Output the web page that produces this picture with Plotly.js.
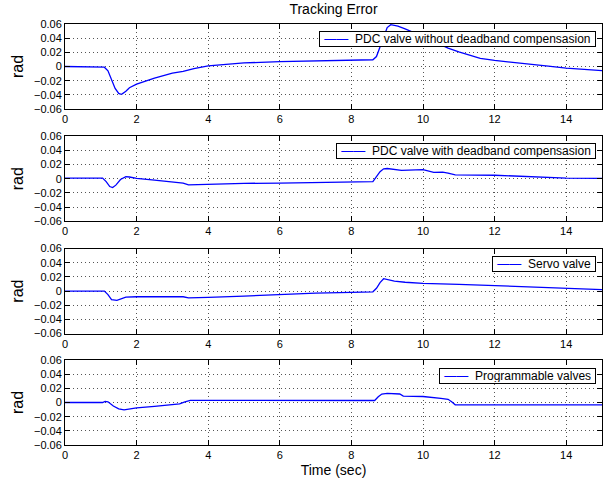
<!DOCTYPE html>
<html>
<head>
<meta charset="utf-8">
<script src="https://cdn.plot.ly/plotly-3.0.1.min.js"></script>
<style>html,body{margin:0;padding:0;background:#fff;}#chart{width:606px;height:486px;}</style>
</head>
<body>
<div id="chart"></div>
<script>
// Series names
const names = [
  'PDC valve without deadband compensasion',
  'PDC valve with deadband compensasion',
  'Servo valve',
  'Programmable valves'
];

// Series 1: PDC valve without deadband compensation
const t1 = [0, 1.0, 1.1, 1.2, 1.3, 1.4, 1.5, 1.55, 1.6, 1.7, 1.8, 2.0, 2.5, 3.0, 3.3, 3.6, 4.0, 4.5, 5.0, 6.0, 7.0, 8.0, 8.6, 8.7, 8.8, 8.9, 9.0, 9.1, 9.2, 9.3, 9.5, 9.8, 10.1, 10.4, 10.7, 11.0, 11.3, 11.6, 12.0, 12.5, 13.0, 13.5, 14.0, 14.5, 15.0];
const y1 = [0, 0, -0.001, -0.006, -0.018, -0.031, -0.038, -0.039, -0.0385, -0.035, -0.030, -0.025, -0.0165, -0.0095, -0.007, -0.003, 0.001, 0.0035, 0.005, 0.007, 0.008, 0.0092, 0.0095, 0.014, 0.028, 0.044, 0.055, 0.059, 0.0585, 0.057, 0.053, 0.047, 0.040, 0.033, 0.026, 0.0205, 0.0155, 0.0115, 0.0085, 0.0055, 0.0025, 0.0005, -0.0022, -0.004, -0.0057];

// Series 2: PDC valve with deadband compensation
const t2 = [0, 1.05, 1.15, 1.25, 1.33, 1.42, 1.55, 1.7, 1.8, 2.0, 2.5, 3.0, 3.3, 3.45, 4.0, 5.0, 6.0, 7.0, 8.0, 8.6, 8.7, 8.8, 8.9, 9.0, 9.4, 9.8, 10.0, 10.3, 10.55, 10.7, 10.9, 12.0, 13.0, 14.0, 15.0];
const y2 = [0.001, 0.001, -0.004, -0.011, -0.0125, -0.009, -0.001, 0.003, 0.0025, 0.0005, -0.002, -0.004, -0.006, -0.0085, -0.0075, -0.0065, -0.006, -0.0055, -0.005, -0.004, 0.003, 0.010, 0.014, 0.0145, 0.012, 0.012, 0.013, 0.009, 0.0095, 0.008, 0.0055, 0.005, 0.003, 0.001, 0.0005];

// Series 3: Servo valve
const t3 = [0, 1.1, 1.2, 1.3, 1.45, 1.55, 1.7, 2.0, 3.0, 3.3, 3.45, 4.0, 5.0, 6.0, 7.0, 8.0, 8.6, 8.7, 8.8, 8.9, 9.0, 9.2, 9.5, 10.0, 11.0, 12.0, 13.0, 14.0, 15.0];
const y3 = [0, 0, -0.005, -0.012, -0.013, -0.011, -0.0085, -0.008, -0.008, -0.008, -0.0095, -0.009, -0.007, -0.0045, -0.003, -0.0018, -0.001, 0.004, 0.012, 0.0175, 0.0165, 0.014, 0.0125, 0.011, 0.0095, 0.0075, 0.0055, 0.0035, 0.0022];

// Series 4: Programmable valves
const t4 = [0, 1.05, 1.12, 1.2, 1.35, 1.5, 1.65, 2.0, 2.5, 3.0, 3.2, 3.35, 3.5, 4.0, 6.0, 8.0, 8.65, 8.75, 8.85, 9.0, 9.2, 9.35, 9.45, 10.0, 10.5, 10.7, 10.8, 10.9, 12.0, 13.0, 15.0];
const y4 = [0, 0, 0.0015, 0.001, -0.005, -0.009, -0.0105, -0.0075, -0.0055, -0.0035, -0.002, 0.001, 0.003, 0.003, 0.003, 0.0028, 0.0028, 0.008, 0.012, 0.013, 0.013, 0.012, 0.009, 0.0085, 0.0058, 0.0045, 0.001, -0.0033, -0.0033, -0.0033, -0.0033];

const ts = [t1, t2, t3, t4];
const ys = [y1, y2, y3, y4];

const FONT = 'Liberation Sans, Arial, Helvetica, sans-serif';
const domains = [[0.7981, 1], [0.5314, 0.7333], [0.2646, 0.4665], [0, 0.2019]];
const legendTops = [0.9834, 0.7173, 0.4489, 0.1829];

const data = [];
const annotations = [];
const layout = {
  width: 606, height: 486,
  margin: {l: 65, r: 4, t: 24, b: 41, autoexpand: false},
  paper_bgcolor: '#fff', plot_bgcolor: '#fff',
  font: {family: FONT, size: 11, color: '#000'},
  title: {text: 'Tracking Error', font: {family: FONT, size: 14, color: '#000'}, x: 0.5, xref: 'paper', y: 1 - 9/486, yref: 'container', yanchor: 'middle', automargin: false},
  showlegend: false,
  annotations: annotations
};

for (let i = 0; i < 4; i++) {
  const n = i + 1;
  const xa = n === 1 ? 'x' : 'x' + n;
  const ya = n === 1 ? 'y' : 'y' + n;
  data.push({
    x: ts[i], y: ys[i], type: 'scatter', mode: 'lines',
    name: names[i], xaxis: xa, yaxis: ya,
    line: {color: '#0000ff', width: 1.3}
  });
  const common = {
    showline: true, linecolor: '#000', linewidth: 1, mirror: 'allticks',
    ticks: 'inside', ticklen: 5, tickcolor: '#000', tickwidth: 1,
    showgrid: true, gridcolor: '#555', griddash: '1px,3px', gridwidth: 1,
    zeroline: false, automargin: false,
    tickfont: {family: FONT, size: 11, color: '#000'}
  };
  layout['xaxis' + (n === 1 ? '' : n)] = Object.assign({}, common, {
    anchor: ya, domain: [0, 1], range: [0, 15], dtick: 2, tick0: 0
  }, n === 4 ? {title: {text: 'Time (sec)', font: {family: FONT, size: 14, color: '#000'}, standoff: 4}} : {});
  layout['yaxis' + (n === 1 ? '' : n)] = Object.assign({}, common, {
    anchor: xa, domain: domains[i], range: [-0.06, 0.06], dtick: 0.02, tick0: 0,
    title: {text: 'rad', font: {family: FONT, size: 16, color: '#000'}}
  });
  // legend box for this subplot
  annotations.push({
    xref: 'paper', yref: 'paper', x: 0.989, y: legendTops[i],
    xanchor: 'right', yanchor: 'top', showarrow: false,
    text: '\u00a0<span style="color:#0000ff">\u2014\u2014</span>\u00a0\u00a0' + names[i] + '\u00a0',
    font: {family: FONT, size: 12, color: '#000'},
    bgcolor: '#fff', bordercolor: '#000', borderwidth: 1, borderpad: 1, height: 12
  });
}

Plotly.newPlot('chart', data, layout, {displayModeBar: false, staticPlot: true});
</script>
</body>
</html>
